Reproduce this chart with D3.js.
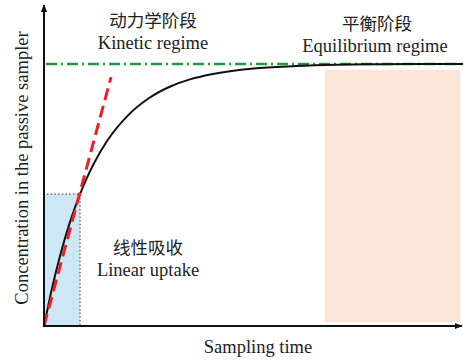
<!DOCTYPE html>
<html>
<head>
<meta charset="utf-8">
<script src="https://cdn.jsdelivr.net/npm/d3@7"></script>
<style>
	body { margin: 0; background: #fff; }
	svg { display: block; }
</style>
</head>
<body>
<div id="chart"></div>
<script>
// curve: sampling time (0-100) vs relative concentration
let time_vals = [0, 2, 4, 6, 8.6, 10, 12, 15, 20, 25, 30, 35, 40, 50, 60, 70, 80, 90, 100];
let conc_vals = [0, 0.150, 0.278, 0.387, 0.503, 0.557, 0.623, 0.705, 0.803, 0.869, 0.913, 0.942, 0.961, 0.983, 0.992, 0.997, 0.999, 1.0, 1.0];

// linear uptake line (red dashed) end points
let linear_t = [0, 16];
let linear_c = [0, 0.95];

// equilibrium level
let eq_level = 1.0;

// shaded regions [t0, t1, c0, c1]
let linear_region = [0, 8.6, 0, 0.503];
let equil_region = [67, 99.3, 0.015, 0.977];

// labels
let x_label = "Sampling time";
let y_label = "Concentration in the passive sampler";
let region_zh = ["动力学阶段", "平衡阶段", "线性吸收"];
let region_en = ["Kinetic regime", "Equilibrium regime", "Linear uptake"];

let width = 463, height = 360;
let serif = "'Liberation Serif', 'Times New Roman', Times, serif";
let cjk = "'Noto Sans CJK SC', sans-serif";

let svg = d3.select("#chart")
	.append("svg")
	.attr("width", width)
	.attr("height", height);

//scales
let x_scale = d3.scaleLinear().domain([0, 100]).range([44, 463]);
let y_scale = d3.scaleLinear().domain([0, 1.225]).range([326, 5]);

//shaded regions
svg.append("rect")
	.attr("x", x_scale(linear_region[0]))
	.attr("y", y_scale(linear_region[3]))
	.attr("width", x_scale(linear_region[1]) - x_scale(linear_region[0]))
	.attr("height", y_scale(linear_region[2]) - y_scale(linear_region[3]))
	.attr("fill", "#cde7f5");

svg.append("rect")
	.attr("x", x_scale(equil_region[0]))
	.attr("y", y_scale(equil_region[3]))
	.attr("width", x_scale(equil_region[1]) - x_scale(equil_region[0]))
	.attr("height", y_scale(equil_region[2]) - y_scale(equil_region[3]))
	.attr("fill", "#fce4d9");

//dotted guides of the linear region
svg.append("line")
	.attr("x1", x_scale(0) + 3).attr("x2", x_scale(linear_region[1]))
	.attr("y1", y_scale(linear_region[3])).attr("y2", y_scale(linear_region[3]))
	.attr("stroke", "#555").attr("stroke-width", 1.2)
	.attr("stroke-dasharray", "1.5,2.2");

svg.append("line")
	.attr("x1", x_scale(linear_region[1])).attr("x2", x_scale(linear_region[1]))
	.attr("y1", y_scale(linear_region[3])).attr("y2", y_scale(0))
	.attr("stroke", "#555").attr("stroke-width", 1.2)
	.attr("stroke-dasharray", "1.5,2.2");

//equilibrium line
svg.append("line")
	.attr("x1", x_scale(0) + 2).attr("x2", x_scale(100))
	.attr("y1", y_scale(eq_level)).attr("y2", y_scale(eq_level))
	.attr("stroke", "#1f9a3c").attr("stroke-width", 2.6)
	.attr("stroke-dasharray", "11,4,2,4");

//uptake curve
let curve_data = time_vals.map((t, i) => ({t: t, c: conc_vals[i]}));
let line = d3.line()
	.x(d => x_scale(d.t))
	.y(d => y_scale(d.c))
	.curve(d3.curveMonotoneX);

svg.append("path")
	.datum(curve_data)
	.attr("d", line)
	.attr("fill", "none")
	.attr("stroke", "#111")
	.attr("stroke-width", 2);

//linear uptake line
svg.append("line")
	.attr("x1", x_scale(linear_t[0])).attr("y1", y_scale(linear_c[0]))
	.attr("x2", x_scale(linear_t[1])).attr("y2", y_scale(linear_c[1]))
	.attr("stroke", "#e8202a").attr("stroke-width", 3)
	.attr("stroke-dasharray", "12,6");

//axes with arrows
let defs = svg.append("defs");
defs.append("marker")
	.attr("id", "arrow")
	.attr("viewBox", "0 0 10 10")
	.attr("refX", 9).attr("refY", 5)
	.attr("markerWidth", 4).attr("markerHeight", 4)
	.attr("markerUnits", "strokeWidth")
	.attr("orient", "auto")
	.append("path")
	.attr("d", "M0,1 L10,5 L0,9 Z")
	.attr("fill", "#111");

svg.append("line")
	.attr("x1", x_scale(0)).attr("y1", y_scale(0))
	.attr("x2", x_scale(0)).attr("y2", y_scale(1.225))
	.attr("stroke", "#111").attr("stroke-width", 2)
	.attr("marker-end", "url(#arrow)");

svg.append("line")
	.attr("x1", x_scale(0) - 1).attr("y1", y_scale(0))
	.attr("x2", x_scale(100) - 1).attr("y2", y_scale(0))
	.attr("stroke", "#111").attr("stroke-width", 2)
	.attr("marker-end", "url(#arrow)");

//axis labels
svg.append("text")
	.attr("text-anchor", "middle")
	.attr("x", 258).attr("y", 353)
	.style("font-family", serif)
	.style("font-size", "18.5px")
	.style("fill", "#222")
	.text(x_label);

svg.append("text")
	.attr("text-anchor", "middle")
	.attr("transform", "translate(28,168) rotate(-90)")
	.style("font-family", serif)
	.style("font-size", "18.5px")
	.style("fill", "#222")
	.text(y_label);

//region labels
let zh_pos = [[153, 27], [377, 30], [148, 254]];
let en_pos = [[153, 49], [375, 52], [148, 276]];

svg.selectAll("text.zh")
	.data(region_zh)
	.enter()
	.append("text")
	.attr("class", "zh")
	.attr("text-anchor", "middle")
	.attr("x", (d, i) => zh_pos[i][0])
	.attr("y", (d, i) => zh_pos[i][1])
	.style("font-family", cjk)
	.style("font-size", "17.5px")
	.style("fill", "#222")
	.text(d => d);

svg.selectAll("text.region_en")
	.data(region_en)
	.enter()
	.append("text")
	.attr("class", "region_en")
	.attr("text-anchor", "middle")
	.attr("x", (d, i) => en_pos[i][0])
	.attr("y", (d, i) => en_pos[i][1])
	.style("font-family", serif)
	.style("font-size", "18.5px")
	.style("fill", "#222")
	.text(d => d);
</script>
</body>
</html>
